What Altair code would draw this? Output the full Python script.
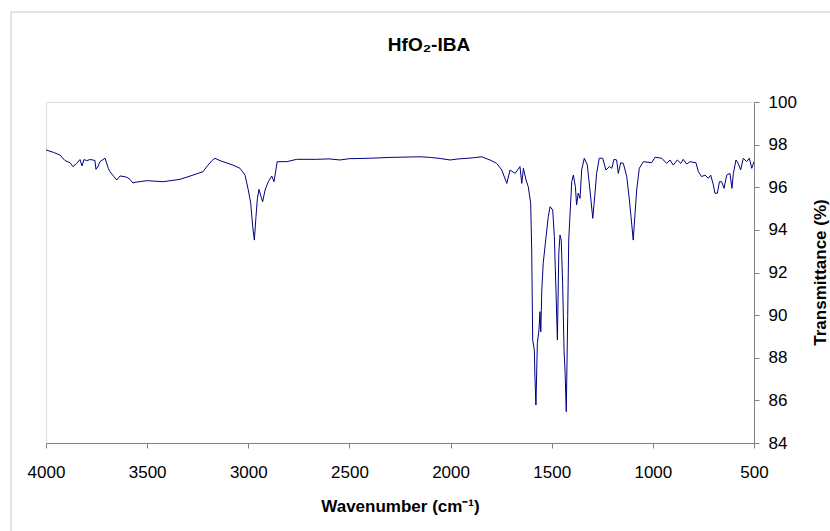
import altair as alt
import pandas as pd

wavenumber = [
    4000, 3964, 3931, 3906, 3881, 3867, 3848, 3832, 3822, 3812, 3799, 3782, 3768, 3758, 3753,
    3745, 3733, 3718, 3708, 3692, 3684, 3664, 3650, 3634, 3614, 3601, 3585, 3570, 3560, 3502,
    3422, 3338, 3273, 3224, 3199, 3179, 3165, 3140, 3125, 3076, 3041, 3016, 3000, 2988, 2978,
    2970, 2962, 2955, 2947, 2937, 2929, 2917, 2901, 2884, 2873, 2857, 2810, 2761, 2662, 2600,
    2547, 2500, 2448, 2400, 2349, 2300, 2250, 2200, 2151, 2100, 2052, 2003, 1960, 1929, 1890,
    1846, 1825, 1805, 1772, 1747, 1722, 1706, 1681, 1657, 1648, 1640, 1627, 1616, 1604, 1599,
    1594, 1586, 1583, 1578, 1571, 1563, 1558, 1554, 1549, 1542, 1528, 1517, 1508, 1495, 1487,
    1479, 1472, 1465, 1459, 1453, 1446, 1439, 1434, 1428, 1421, 1416, 1410, 1401, 1393, 1383,
    1377, 1369, 1360, 1352, 1339, 1324, 1311, 1297, 1286, 1278, 1265, 1248, 1232, 1215, 1203,
    1192, 1179, 1171, 1159, 1146, 1129, 1116, 1108, 1097, 1088, 1080, 1067, 1047, 1006, 989,
    956, 932, 915, 899, 879, 862, 850, 833, 816, 787, 775, 759, 742, 726, 714,
    701, 693, 681, 671, 660, 648, 635, 619, 609, 602, 589, 578, 566, 553, 536,
    523, 511, 500,
]
transmittance = [
    97.75, 97.64, 97.51, 97.25, 97.15, 96.97, 97.12, 97.30, 97.00, 97.30, 97.25, 97.30, 97.28, 97.25, 96.84,
    96.95, 97.20, 97.30, 97.36, 96.89, 96.73, 96.50, 96.34, 96.53, 96.50, 96.47, 96.37, 96.20, 96.23, 96.31,
    96.26, 96.37, 96.57, 96.73, 97.04, 97.25, 97.36, 97.25, 97.20, 97.04, 96.89, 96.57, 95.87, 95.25, 94.15,
    93.52, 94.62, 95.48, 95.90, 95.56, 95.32, 95.87, 96.26, 96.53, 96.26, 97.20, 97.20, 97.31, 97.31, 97.33,
    97.28, 97.34, 97.35, 97.36, 97.38, 97.40, 97.41, 97.42, 97.43, 97.40, 97.35, 97.28, 97.33, 97.35, 97.38,
    97.43, 97.35, 97.28, 97.12, 96.81, 96.18, 96.81, 96.65, 96.97, 96.18, 96.89, 96.34, 96.03, 95.25, 93.06,
    88.83, 88.36, 87.11, 85.78, 88.68, 89.30, 90.16, 89.22, 91.18, 92.43, 93.68, 94.62, 95.09, 94.93, 93.68,
    91.18, 88.83, 92.90, 93.76, 93.52, 91.49, 88.36, 87.35, 85.47, 89.93, 93.52, 94.62, 96.26, 96.57, 96.03,
    95.17, 95.72, 95.48, 96.81, 97.36, 97.04, 95.87, 94.54, 95.72, 96.65, 97.36, 97.36, 96.81, 96.97, 96.89,
    97.31, 97.28, 96.65, 97.15, 97.12, 96.50, 95.40, 94.62, 93.52, 94.78, 95.87, 96.89, 97.20, 97.15, 97.41,
    97.36, 97.12, 97.28, 97.04, 97.28, 97.12, 97.31, 97.09, 97.20, 97.15, 96.73, 96.50, 96.57, 96.42, 96.57,
    96.11, 95.72, 95.72, 96.26, 96.26, 95.95, 96.57, 96.65, 95.95, 96.65, 97.28, 97.12, 96.81, 97.36, 97.20,
    97.36, 96.89, 97.20,
]

x_ticks = [4000, 3500, 3000, 2500, 2000, 1500, 1000, 500]
y_ticks = [84, 86, 88, 90, 92, 94, 96, 98, 100]
chart_title = "HfO₂-IBA"

df = pd.DataFrame({"wn": wavenumber, "T": transmittance})
FONT = "Liberation Sans"

line = alt.Chart(df).mark_line(color="#000080", strokeWidth=1, clip=True).encode(
    x=alt.X(
        "wn:Q",
        scale=alt.Scale(domain=[500, 4000], reverse=True, nice=False, zero=False),
        axis=alt.Axis(
            values=x_ticks, format="d", grid=False,
            title="Wavenumber (cm⁻¹)", titleFontWeight="bold", titleFontSize=17,
            titleFont=FONT, titleColor="black", titleY=63, titleBaseline="middle",
            labelFont=FONT, labelFontSize=17, labelColor="black", labelPadding=16,
            tickSize=5, tickColor="#808080", domainColor="#808080",
            labelFlush=False, labelOverlap=False,
        ),
    ),
    y=alt.Y(
        "T:Q",
        scale=alt.Scale(domain=[84, 100], nice=False, zero=False),
        axis=alt.Axis(
            orient="right", values=y_ticks, grid=False,
            title="Transmittance (%)", titleFontWeight="bold", titleFontSize=17,
            titleFont=FONT, titleColor="black", titleAngle=270,
            titleX=66, titleY=170, titleAlign="center", titleBaseline="middle",
            labelFont=FONT, labelFontSize=17, labelColor="black", labelPadding=9,
            tickSize=5, tickColor="#808080", domainColor="#808080",
            labelFlush=False, labelOverlap=False,
        ),
    ),
)

base = alt.Chart(pd.DataFrame({"t": [chart_title]}))

frame = base.mark_rect(filled=False, stroke="#c8c8c8", strokeWidth=1).encode(
    x=alt.value(-35), y=alt.value(-90), x2=alt.value(900), y2=alt.value(600)
)

title = base.mark_text(
    font=FONT, fontSize=19, fontWeight="bold", color="black",
    align="center", baseline="middle",
).encode(text="t:N", x=alt.value(383), y=alt.value(-57))

chart = alt.layer(frame, line, title).properties(
    width=708,
    height=341,
    autosize=alt.AutoSizeParams(type="none"),
    padding={"left": 46, "top": 102, "right": 76, "bottom": 88},
).configure_view(stroke="#808080", strokeWidth=1).configure(background="white")

chart.save("out.html", embed_options={"renderer": "svg", "actions": False})
